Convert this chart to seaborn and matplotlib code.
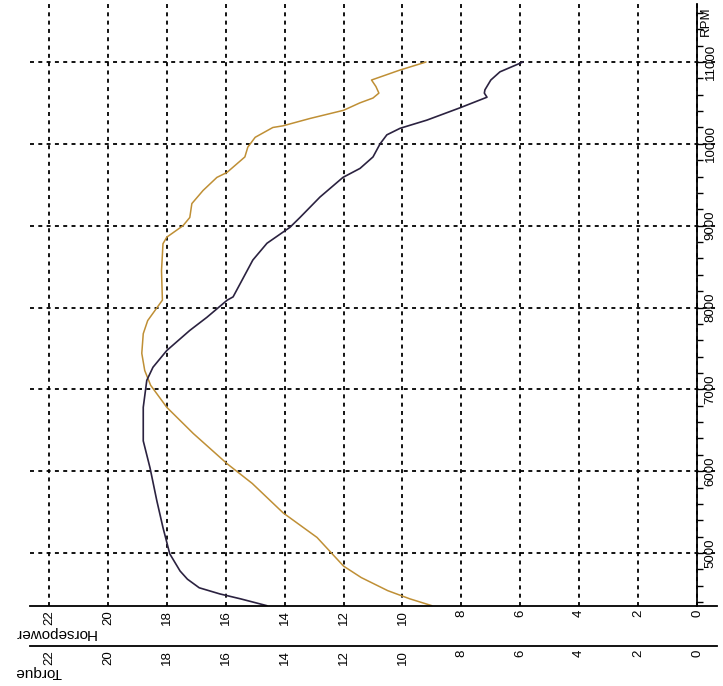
import matplotlib

matplotlib.use("Agg")
import matplotlib.pyplot as plt
import seaborn as sns
from matplotlib.ticker import MultipleLocator

# Horsepower curve (gold)
hp_rpm = [4356, 4440, 4540, 4700, 4840, 5190, 5490, 5850, 6090, 6460, 6780, 7050,
          7230, 7440, 7680, 7840, 7990, 8090, 8450, 8780, 8860, 9000, 9100, 9270,
          9430, 9590, 9650, 9840, 9960, 10080, 10200, 10220, 10310, 10410, 10500,
          10560, 10620, 10700, 10780, 10900, 11000]
hp_val = [9.0, 9.75, 10.5, 11.4, 12.0, 12.9, 14.05, 15.1, 15.95, 17.1, 18.0, 18.55,
          18.75, 18.85, 18.8, 18.65, 18.35, 18.15, 18.18, 18.13, 18.0, 17.45, 17.22, 17.15,
          16.77, 16.3, 15.96, 15.35, 15.25, 15.0, 14.4, 14.06, 13.14, 12.0, 11.45,
          11.0, 10.8, 10.9, 11.05, 10.1, 9.2]

# Torque curve (dark)
tq_rpm = [4356, 4440, 4500, 4575, 4680, 4780, 4990, 5310, 5640, 6040, 6370, 6780, 7110,
          7270, 7475, 7720, 7880, 8090, 8130, 8580, 8785, 8980, 9100, 9350, 9590,
          9700, 9840, 10000, 10110, 10190, 10290, 10440, 10570, 10620, 10660, 10720,
          10780, 10880, 11000]
tq_val = [14.6, 15.5, 16.2, 16.9, 17.3, 17.55, 17.9, 18.13, 18.34, 18.57, 18.8, 18.8, 18.68,
          18.47, 18.0, 17.22, 16.64, 15.95, 15.75, 15.08, 14.6, 13.82, 13.48, 12.8, 12.02,
          11.44, 11.0, 10.76, 10.53, 10.08, 9.17, 8.05, 7.13, 7.22, 7.2, 7.1,
          7.0, 6.69, 5.91]

value_ticks = list(range(0, 23, 2))
rpm_ticks = list(range(5000, 11001, 1000))

sns.set_style("white")
plt.rcParams["font.family"] = ["Liberation Sans", "DejaVu Sans"]
plt.rcParams["text.color"] = "black"
plt.rcParams["xtick.color"] = "black"
plt.rcParams["ytick.color"] = "black"

W, H = 723, 686
fig = plt.figure(figsize=(W / 100, H / 100), dpi=100)
# axes box in pixel terms: left 30, right 717, top 4, bottom 605.7
ax = fig.add_axes([30 / W, (H - 605.7) / H, (717 - 30) / W, (605.7 - 4) / H])

sns.lineplot(x=hp_val, y=hp_rpm, sort=False, estimator=None, orient="y",
             color="#bf8f35", linewidth=1.1, ax=ax)
sns.lineplot(x=tq_val, y=tq_rpm, sort=False, estimator=None, orient="y",
             color="#2b2240", linewidth=1.2, ax=ax)

ax.set_xlim(22.645, -0.679)
ax.set_ylim(4356, 11709)

ax.set_xticks(value_ticks)
ax.set_yticks(rpm_ticks)
ax.yaxis.set_minor_locator(MultipleLocator(200))
ax.grid(True, which="major", color="black", linestyle=(0, (2.2, 2.4)), linewidth=1.3)

for side in ["left", "top"]:
    ax.spines[side].set_visible(False)
ax.spines["right"].set_position(("data", 0))
for side in ["right", "bottom"]:
    ax.spines[side].set_linewidth(1.3)
    ax.spines[side].set_color("black")

ax.yaxis.tick_right()
ax.tick_params(axis="y", which="both", direction="out", length=4.5, width=1,
               color="black", labelcolor="black", labelsize=9.5,
               labelrotation=90, pad=1)
ax.tick_params(axis="x", direction="in", length=3, width=1, color="black",
               labelcolor="black", labelsize=9.5, labelrotation=90, pad=3)
ax.set_xticklabels([str(v) for v in value_ticks])
ax.set_yticklabels([str(v) for v in rpm_ticks], va="center")

# second value scale for torque, drawn below the horsepower one
sec = ax.secondary_xaxis(-40 / 601.7)
sec.set_xticks(value_ticks)
sec.set_xticklabels([str(v) for v in value_ticks])
sec.spines["bottom"].set_linewidth(1.3)
sec.spines["bottom"].set_color("black")
sec.tick_params(axis="x", direction="in", length=0, labelsize=9.5,
                labelcolor="black", labelrotation=90, pad=3)

fig.text(55 / W, 1 - 633 / H, "Horsepower", rotation=180, ha="center",
         va="center", fontsize=11, color="black")
fig.text(38 / W, 1 - 672 / H, "Torque", rotation=180, ha="center",
         va="center", fontsize=11, color="black")
fig.text(706 / W, 1 - 21 / H, "RPM", rotation=90, ha="center", va="center",
         fontsize=9.5, color="black")

fig.savefig("out.png", dpi=100)
